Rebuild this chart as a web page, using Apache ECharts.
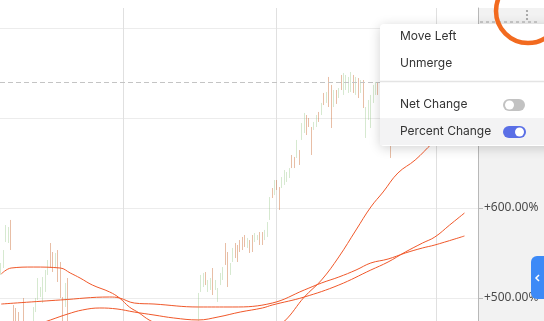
<!DOCTYPE html>
<html>
<head>
<meta charset="utf-8">
<script src="https://cdn.jsdelivr.net/npm/echarts@6/dist/echarts.min.js"></script>
<style>
html,body{margin:0;padding:0;background:#fff;}
#chart{width:544px;height:321px;}
</style>
</head>
<body>
<div id="chart"></div>
<script>
// ---- categories (trading sessions) ----
var categories = [];
for (var k = 0; k < 194; k++) { categories.push('S' + (k + 1)); }

// ---- bar values (percent change) ----
var barHigh = [
538.9,553.3,581.1,578.9,586.7,492.2,488.9,484.4,470,500,
468,466,470,490,500,522.2,512.2,523.3,531.1,542.2,
561.1,551.1,550,553.3,540,501.1,516.7,522.2,465,462,
468,466,460,458,455,452,456,450,447,451,
446,443,448,445,440,444,441,437,442,446,
443,448,445,450,447,452,449,454,451,456,
453,458,455,460,457,462,459,463,460,465,
462,466,463,467,464,468,466,469,467,470,
505.6,525.6,527.8,528.9,520,522.2,533.3,520,511.1,527.8,
534.4,561.1,551.1,538.9,555.6,561.1,558.9,564.4,567.8,570,
566.7,564.4,570,572.2,570,573.3,573.3,575.6,584.4,612.2,
622.2,631.1,631.1,623.3,634.4,642.2,640,644.4,658.9,656.7,
675.6,664.4,694.4,705.6,703.3,700,690,695.6,703.3,706.7,
716.7,727.8,728.9,745.6,736.7,731.1,731.1,733.3,747.8,750,
747.8,745.6,751.1,747.8,745.6,744.4,742.2,742.2,712.2,720,
725.6,736.7,740,740,736.7,725.6,720,714.4,697.8
];
var barLow = [
525.6,533.3,562.2,561.1,553.3,458.9,458.9,458.9,450,458.9,
452,445,450,464.4,484.4,497.8,501.1,494.4,506.7,525.6,
533.3,528.9,533.3,517.8,500,458.9,490,458.9,440,438,
445,442,436,433,430,428,434,427,424,428,
422,420,425,421,417,420,418,414,418,423,
420,425,422,427,424,429,426,431,428,433,
430,435,432,437,434,439,436,440,437,442,
440,443,441,444,442,446,444,447,445,448,
470,506.7,512.2,514.4,506.7,508.9,503.3,508.9,495.6,514.4,
520,536.7,512.2,525.6,540,544.4,540,551.1,553.3,556.7,
555.6,550,551.1,562.2,564.4,558.9,558.9,564.4,567.8,586.7,
611.1,614.4,620,597.8,622.2,625.6,628.9,633.3,644.4,644.4,
655.6,647.8,675.6,683.3,681.1,690,658.9,686.7,690,695.6,
703.3,714.4,716.7,712.2,688.9,712.2,715.6,722.2,731.1,725.6,
731.1,727.8,728.9,727.8,725.6,722.2,727.8,711.1,677.8,697.8,
688.9,716.7,725.6,725.6,708.9,692.2,686.7,675.6,655.6
];
// 1 = up bar, 0 = down bar
var barUp = [
1,1,1,1,0,0,0,0,0,0,
1,0,1,1,1,1,1,1,1,1,
0,0,1,0,0,0,1,0,0,1,
1,0,0,1,0,0,1,0,0,1,
0,0,1,0,0,1,0,0,1,1,
0,1,0,1,0,1,0,1,0,1,
0,1,0,1,0,1,0,1,0,1,
0,1,0,1,0,1,0,1,0,1,
1,1,1,0,1,1,0,1,1,1,
1,0,0,1,1,0,0,0,0,0,
1,0,0,1,1,0,0,1,1,1,
0,1,0,0,1,1,1,1,0,0,
1,0,1,1,0,0,0,1,1,0,
1,0,1,0,0,1,0,1,0,1,
1,1,1,0,1,0,1,0,1,1,
1,1,1,0,0,0,1,0,0
];

// ---- moving average lines: [session index, value] ----
var maFast = [[0,526.7],[4,533.3],[13,534.4],[24,533.3],[28,527.8],[32,522.2],[37,514.4],[44,506.7],[48,500],[52,490],[56,483.3],[60,475.6],[70,462],[80,450],[90,445],[100,450],[108,462],[115,474.4],[123,501.1],[130,520],[137,545.6],[144,575.6],[150,601.1],[155,617.8],[161,638.9],[168,653.3],[175,672.2],[182,690],[188,705]];
var maMid = [[0,455],[10,466],[20,475.6],[27,482.2],[33,486.7],[40,488.9],[47,487.8],[54,484.4],[62,481.1],[70,477.8],[80,475.6],[88,478.9],[97,484.4],[106,488.9],[110,492.2],[123,501.1],[137,514.4],[150,531.1],[157,540],[164,551.1],[171,561.1],[176,567.8],[182,581.1],[188,594.4]];
var maSlow = [[0,493.3],[24,497.8],[44,501.1],[48,500],[54,494.4],[62,493.3],[80,490],[94,490],[110,494.4],[123,508.9],[130,516.7],[137,523.3],[144,531.1],[150,538.9],[157,543.3],[164,550],[171,555.6],[176,558.9],[188,568.9]];

// ---- reference line and period separators ----
var refLevel = 740;
var periodStarts = [50, 112, 177];

// ---- axis ticks ----
var yMin = 400, yMax = 822.22, yStep = 100;

var ohlc = [];
for (var i = 0; i < barHigh.length; i++) {
  if (barUp[i]) ohlc.push([barLow[i], barHigh[i], barLow[i], barHigh[i]]);
  else ohlc.push([barHigh[i], barLow[i], barLow[i], barHigh[i]]);
}

var chart = echarts.init(document.getElementById('chart'), null, {renderer: 'canvas'});
var lineColor = '#f0582a';
var option = {
  animation: false,
  backgroundColor: '#ffffff',
  grid: {left: 0, top: 8, width: 478, height: 380, containLabel: false, outerBoundsMode: 'none'},
  xAxis: {
    type: 'category', data: categories, boundaryGap: true,
    axisLine: {show: false}, axisTick: {show: false}, axisLabel: {show: false},
    splitLine: {show: true, interval: function (idx) { return periodStarts.indexOf(idx) >= 0; },
      lineStyle: {color: '#e0e0e0', width: 1}}
  },
  yAxis: {
    type: 'value', position: 'right', min: yMin, max: yMax, interval: yStep,
    axisLine: {show: true, lineStyle: {color: '#b8b8b8'}},
    axisTick: {show: true, length: 5, lineStyle: {color: '#b8b8b8'}},
    axisLabel: {show: true, margin: 6, color: '#4a4a4a', fontFamily: 'Noto Sans', fontSize: 12,
      showMaxLabel: false,
      formatter: function (v) { return '+' + v.toFixed(2) + '%'; }},
    splitLine: {show: true, showMaxLine: false, lineStyle: {color: '#ececec'}}
  },
  series: [
    {
      type: 'candlestick', data: ohlc, barWidth: 1.3,
      itemStyle: {color: '#98c888', color0: '#c45a1e', borderColor: '#98c888', borderColor0: '#c45a1e', borderWidth: 0.4},
      markLine: {
        silent: true, symbol: ['none', 'none'], label: {show: false},
        lineStyle: {color: '#c4c4c4', type: [5, 3], width: 1},
        data: [{yAxis: refLevel}]
      }
    },
    {type: 'line', data: maFast, smooth: 0.4, showSymbol: false, lineStyle: {color: lineColor, width: 1}, z: 3},
    {type: 'line', data: maMid, smooth: 0.4, showSymbol: false, lineStyle: {color: lineColor, width: 1}, z: 3},
    {type: 'line', data: maSlow, smooth: 0.4, showSymbol: false, lineStyle: {color: lineColor, width: 1}, z: 3}
  ],
  graphic: {
    elements: [
      {type: 'rect', z: -1, shape: {x: 478, y: 8, width: 66, height: 313}, style: {fill: '#f2f2f2'}},
      {type: 'rect', z: 5, shape: {x: 479, y: 8, width: 65, height: 16}, style: {fill: '#f2f2f2'}},
      {type: 'line', z: 6, shape: {x1: 480, y1: 22, x2: 540, y2: 22}, style: {stroke: '#a0a0a0', lineWidth: 1, lineDash: [3, 3]}},
      {type: 'circle', z: 6, shape: {cx: 527, cy: 11, r: 1.1}, style: {fill: '#9a9a9a'}},
      {type: 'circle', z: 6, shape: {cx: 527, cy: 15, r: 1.1}, style: {fill: '#9a9a9a'}},
      {type: 'circle', z: 6, shape: {cx: 527, cy: 19, r: 1.1}, style: {fill: '#9a9a9a'}},
      // context menu
      {type: 'rect', z: 100, shape: {x: 380, y: 24, width: 175, height: 122, r: 4},
        style: {fill: '#ffffff', shadowBlur: 12, shadowColor: 'rgba(0,0,0,0.18)', shadowOffsetY: 2}},
      {type: 'rect', z: 101, shape: {x: 380, y: 118, width: 170, height: 27}, style: {fill: '#f3f3f4'}},
      {type: 'line', z: 101, shape: {x1: 380, y1: 81.5, x2: 544, y2: 81.5}, style: {stroke: '#e4e4e4', lineWidth: 1.5}},
      {type: 'text', z: 102, x: 400, y: 36, style: {text: 'Move Left', fill: '#333333', font: '12px Inter', verticalAlign: 'middle'}},
      {type: 'text', z: 102, x: 400, y: 63, style: {text: 'Unmerge', fill: '#333333', font: '12px Inter', verticalAlign: 'middle'}},
      {type: 'text', z: 102, x: 400, y: 104, style: {text: 'Net Change', fill: '#333333', font: '12px Inter', verticalAlign: 'middle'}},
      {type: 'text', z: 102, x: 400, y: 131, style: {text: 'Percent Change', fill: '#333333', font: '12px Inter', verticalAlign: 'middle'}},
      {type: 'rect', z: 102, shape: {x: 503, y: 99, width: 22, height: 12, r: 6}, style: {fill: '#c2c2c2'}},
      {type: 'circle', z: 103, shape: {cx: 509.5, cy: 105, r: 4.5}, style: {fill: '#ffffff'}},
      {type: 'rect', z: 102, shape: {x: 503, y: 126, width: 23, height: 12, r: 6}, style: {fill: '#5a6fe6'}},
      {type: 'circle', z: 103, shape: {cx: 519.5, cy: 132, r: 4.5}, style: {fill: '#ffffff'}},
      // highlight circle
      {type: 'circle', z: 110, shape: {cx: 528, cy: 11, r: 32}, style: {fill: 'none', stroke: '#f26a1f', lineWidth: 4.5}},
      // side tab
      {type: 'rect', z: 110, shape: {x: 531, y: 256, width: 18, height: 43, r: [6, 0, 0, 6]}, style: {fill: '#3d8af7'}},
      {type: 'polyline', z: 111, shape: {points: [[539, 275], [536, 278], [539, 281]]}, style: {stroke: '#ffffff', lineWidth: 1.5, fill: 'none'}}
    ]
  }
};
chart.setOption(option);
</script>
</body>
</html>
